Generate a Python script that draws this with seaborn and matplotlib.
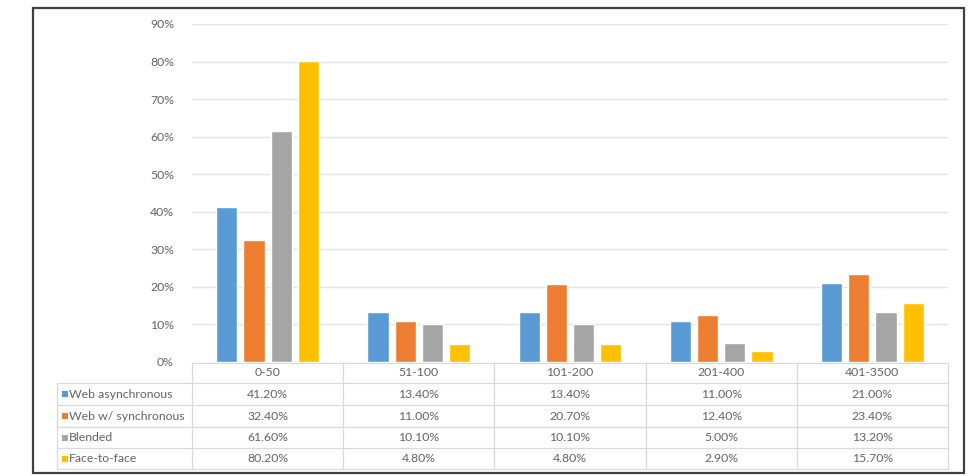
import matplotlib
matplotlib.use("Agg")
import matplotlib.pyplot as plt
from matplotlib.patches import Rectangle
from matplotlib.lines import Line2D
import seaborn as sns
import pandas as pd

# ---- data ----
categories = ["0-50", "51-100", "101-200", "201-400", "401-3500"]
series_names = ["Web asynchronous", "Web w/ synchronous", "Blended", "Face-to-face"]
web_async = [41.2, 13.4, 13.4, 11.0, 21.0]
web_sync = [32.4, 11.0, 20.7, 12.4, 23.4]
blended = [61.6, 10.1, 10.1, 5.0, 13.2]
face_to_face = [80.2, 4.8, 4.8, 2.9, 15.7]
y_ticks = [0, 10, 20, 30, 40, 50, 60, 70, 80, 90]
colors = ["#5B9BD5", "#ED7D31", "#A5A5A5", "#FFC000"]

series_values = [web_async, web_sync, blended, face_to_face]
rows = []
for name, vals in zip(series_names, series_values):
    for c, v in zip(categories, vals):
        rows.append({"category": c, "series": name, "value": v})
df = pd.DataFrame(rows)

sns.set_theme(style="white")
plt.rcParams["font.family"] = ["Lato", "DejaVu Sans"]

W, H = 980, 476
fig = plt.figure(figsize=(W / 100, H / 100), dpi=100)
fig.patch.set_facecolor("white")

def fx(x):
    return x / W

def fy(y):
    return 1 - y / H

# axes: x 192..948, y 24 (90%) .. 362 (0%)
ax = fig.add_axes([fx(192), fy(362), fx(948) - fx(192), fy(24) - fy(362)])
sns.barplot(data=df, x="category", y="value", hue="series", order=categories,
            hue_order=series_names, palette=colors, width=0.72, gap=0.22,
            saturation=1, legend=False, ax=ax)
ax.set_ylim(0, 90)
ax.set_xlim(-0.5, len(categories) - 0.5)
ax.set_yticks(y_ticks)
ax.set_yticklabels([f"{t}%" for t in y_ticks])
ax.set_xticks([])
ax.set_xlabel("")
ax.set_ylabel("")
fs = 8.8
txt_color = "#636363"
ax.tick_params(axis="y", length=0, pad=13, labelsize=fs, labelcolor=txt_color)
for s in ax.spines.values():
    s.set_visible(False)
ax.grid(axis="y", color="#E4E4E4", linewidth=1)
ax.set_axisbelow(True)

# ---- data table ----
line_kw = dict(color="#D9D9D9", linewidth=0.9, transform=fig.transFigure)
row_y = [363, 383, 405, 427, 448, 469]
col_x = [192 + i * 151.2 for i in range(len(categories) + 1)]
left_x = 57

# horizontal lines
fig.add_artist(Line2D([fx(192), fx(948)], [fy(row_y[0])] * 2, **line_kw))
for y in row_y[1:]:
    fig.add_artist(Line2D([fx(left_x), fx(948)], [fy(y)] * 2, **line_kw))
# vertical lines
for x in col_x:
    fig.add_artist(Line2D([fx(x)] * 2, [fy(row_y[0]), fy(row_y[-1])], **line_kw))
fig.add_artist(Line2D([fx(left_x)] * 2, [fy(row_y[1]), fy(row_y[-1])], **line_kw))

# header
for i, c in enumerate(categories):
    xc = (col_x[i] + col_x[i + 1]) / 2
    fig.text(fx(xc), fy((row_y[0] + row_y[1]) / 2), c, ha="center", va="center",
             fontsize=fs, color=txt_color)

# body
for r, (name, vals, col) in enumerate(zip(series_names, series_values, colors)):
    yc = (row_y[r + 1] + row_y[r + 2]) / 2
    fig.add_artist(Rectangle((fx(62), fy(yc + 3)), fx(6), 6 / H,
                             facecolor=col, edgecolor="none", transform=fig.transFigure))
    fig.text(fx(69), fy(yc), name, ha="left", va="center", fontsize=fs, color=txt_color)
    for i, v in enumerate(vals):
        xc = (col_x[i] + col_x[i + 1]) / 2
        fig.text(fx(xc), fy(yc), f"{v:.2f}%", ha="center", va="center",
                 fontsize=fs, color=txt_color)

# outer border
fig.add_artist(Rectangle((fx(33), fy(473)), fx(964) - fx(33), fy(8) - fy(473),
                         facecolor="none", edgecolor="#404040", linewidth=1.6,
                         transform=fig.transFigure))

fig.savefig("out.png", dpi=100, facecolor="white")
